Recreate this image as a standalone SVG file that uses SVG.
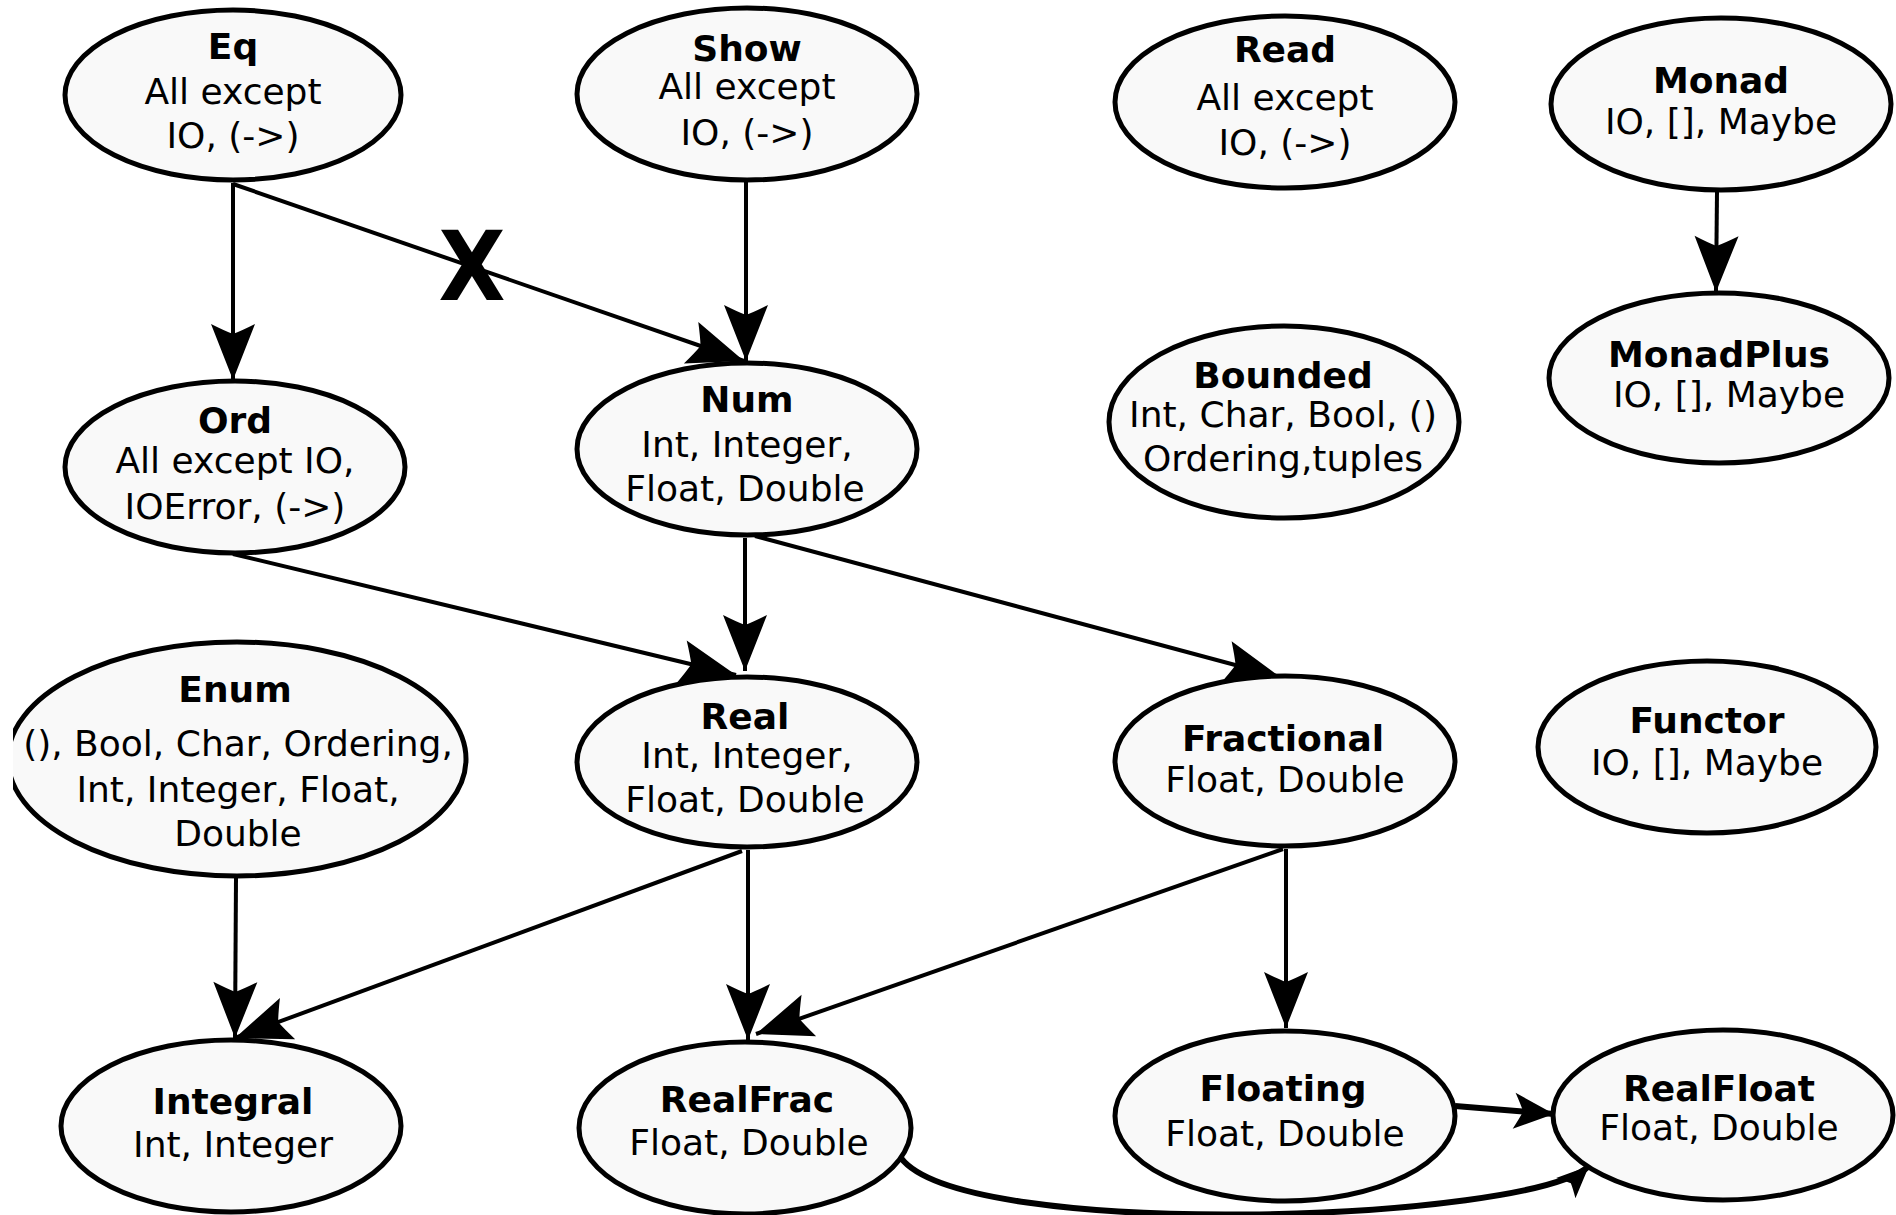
<svg xmlns="http://www.w3.org/2000/svg" width="1896" height="1215" viewBox="0 0 1896 1215">
<style>
.node ellipse{fill:#f9f9f9;stroke:#000;stroke-width:5}
.node text{font-family:"DejaVu Sans","Liberation Sans",sans-serif;font-size:36px;fill:#000;text-anchor:middle}
.node text.t{font-weight:bold}
.edge{fill:none;stroke:#000;stroke-width:4}
.thick{stroke-width:6}
</style>
<defs>
<marker id="ah" markerUnits="userSpaceOnUse" markerWidth="60" markerHeight="48" refX="56" refY="22" orient="auto" overflow="visible">
<path d="M56,22 L0,0 Q7,14 10,22 Q7,30 0,44 Z" fill="#000"/>
</marker>
<marker id="ahm" markerUnits="userSpaceOnUse" markerWidth="44" markerHeight="40" refX="40" refY="18" orient="auto" overflow="visible">
<path d="M40,18 L0,0 Q6,11 9,18 Q6,25 0,36 Z" fill="#000"/>
</marker>
<marker id="ahs" markerUnits="userSpaceOnUse" markerWidth="36" markerHeight="32" refX="32" refY="14" orient="auto" overflow="visible">
<path d="M32,14 L0,0 Q5,9 7,14 Q5,19 0,28 Z" fill="#000"/>
</marker>
<clipPath id="enumclip"><rect x="13" y="600" width="500" height="320"/></clipPath>
</defs>
<rect width="1896" height="1215" fill="#fff"/>
<g id="connectors">
<path class="edge" d="M233,183 L233,380" marker-end="url(#ah)"/>
<path class="edge" d="M233,184 L744,361" marker-end="url(#ah)"/>
<path class="edge" d="M746,182 L746,361" marker-end="url(#ah)"/>
<path class="edge" d="M1717,192 L1716,292" marker-end="url(#ah)"/>
<path class="edge" d="M233,554 L736,675" marker-end="url(#ah)"/>
<path class="edge" d="M745,538 L745,671" marker-end="url(#ah)"/>
<path class="edge" d="M755,536 L1280,677" marker-end="url(#ah)"/>
<path class="edge" d="M236,878 L235,1038" marker-end="url(#ah)"/>
<path class="edge" d="M742,851 L235,1038" marker-end="url(#ah)"/>
<path class="edge" d="M748,850 L748,1040" marker-end="url(#ah)"/>
<path class="edge" d="M1283,849 L756,1034" marker-end="url(#ah)"/>
<path class="edge" d="M1286,849 L1286,1028" marker-end="url(#ah)"/>
<path class="edge thick" d="M1455,1106 L1554,1114" marker-end="url(#ahm)"/>
<path class="edge thick" d="M901,1158 C965,1242 1530,1222 1589,1166" marker-end="url(#ahs)"/>
<text x="472" y="300" font-family="DejaVu Sans, sans-serif" font-weight="bold" font-size="96" text-anchor="middle" textLength="67" lengthAdjust="spacingAndGlyphs">X</text>
</g>
<g id="Eq" class="node"><ellipse cx="233" cy="95" rx="168" ry="85"/>
<text class="t" x="233" y="59">Eq</text><text x="233" y="104">All except</text><text x="233" y="148">IO, (-&gt;)</text></g>
<g id="Show" class="node"><ellipse cx="747" cy="94" rx="170" ry="86"/>
<text class="t" x="747" y="61">Show</text><text x="747" y="99">All except</text><text x="747" y="145">IO, (-&gt;)</text></g>
<g id="Read" class="node"><ellipse cx="1285" cy="102" rx="170" ry="86"/>
<text class="t" x="1285" y="62">Read</text><text x="1285" y="110">All except</text><text x="1285" y="155">IO, (-&gt;)</text></g>
<g id="Monad" class="node"><ellipse cx="1721" cy="104" rx="170" ry="86"/>
<text class="t" x="1721" y="93">Monad</text><text x="1721" y="134">IO, [], Maybe</text></g>
<g id="MonadPlus" class="node"><ellipse cx="1719" cy="378" rx="170" ry="85"/>
<text class="t" x="1719" y="367">MonadPlus</text><text x="1729" y="407">IO, [], Maybe</text></g>
<g id="Bounded" class="node"><ellipse cx="1284" cy="422" rx="175" ry="96"/>
<text class="t" x="1283" y="388">Bounded</text><text x="1283" y="427">Int, Char, Bool, ()</text><text x="1283" y="471">Ordering,tuples</text></g>
<g id="Ord" class="node"><ellipse cx="235" cy="467" rx="170" ry="86"/>
<text class="t" x="235" y="433">Ord</text><text x="235" y="473">All except IO,</text><text x="235" y="519">IOError, (-&gt;)</text></g>
<g id="Num" class="node"><ellipse cx="747" cy="449" rx="170" ry="86"/>
<text class="t" x="747" y="412">Num</text><text x="747" y="457">Int, Integer,</text><text x="745" y="501">Float, Double</text></g>
<g id="Enum" class="node"><ellipse cx="237" cy="759" rx="229" ry="117" clip-path="url(#enumclip)"/>
<text class="t" x="235" y="702">Enum</text><text x="238" y="756">(), Bool, Char, Ordering,</text><text x="238" y="802">Int, Integer, Float,</text><text x="238" y="846">Double</text></g>
<g id="Real" class="node"><ellipse cx="747" cy="762" rx="170" ry="85"/>
<text class="t" x="745" y="729">Real</text><text x="747" y="768">Int, Integer,</text><text x="745" y="812">Float, Double</text></g>
<g id="Fractional" class="node"><ellipse cx="1285" cy="761" rx="170" ry="85"/>
<text class="t" x="1283" y="751">Fractional</text><text x="1285" y="792">Float, Double</text></g>
<g id="Functor" class="node"><ellipse cx="1707" cy="747" rx="169" ry="86"/>
<text class="t" x="1707" y="733">Functor</text><text x="1707" y="775">IO, [], Maybe</text></g>
<g id="Integral" class="node"><ellipse cx="231" cy="1126" rx="170" ry="86"/>
<text class="t" x="233" y="1114">Integral</text><text x="233" y="1157">Int, Integer</text></g>
<g id="RealFrac" class="node"><ellipse cx="745" cy="1128" rx="166" ry="86"/>
<text class="t" x="747" y="1112">RealFrac</text><text x="749" y="1155">Float, Double</text></g>
<g id="Floating" class="node"><ellipse cx="1285" cy="1116" rx="170" ry="85"/>
<text class="t" x="1283" y="1101">Floating</text><text x="1285" y="1146">Float, Double</text></g>
<g id="RealFloat" class="node"><ellipse cx="1723" cy="1115" rx="170" ry="85"/>
<text class="t" x="1719" y="1101">RealFloat</text><text x="1719" y="1140">Float, Double</text></g>
</svg>
